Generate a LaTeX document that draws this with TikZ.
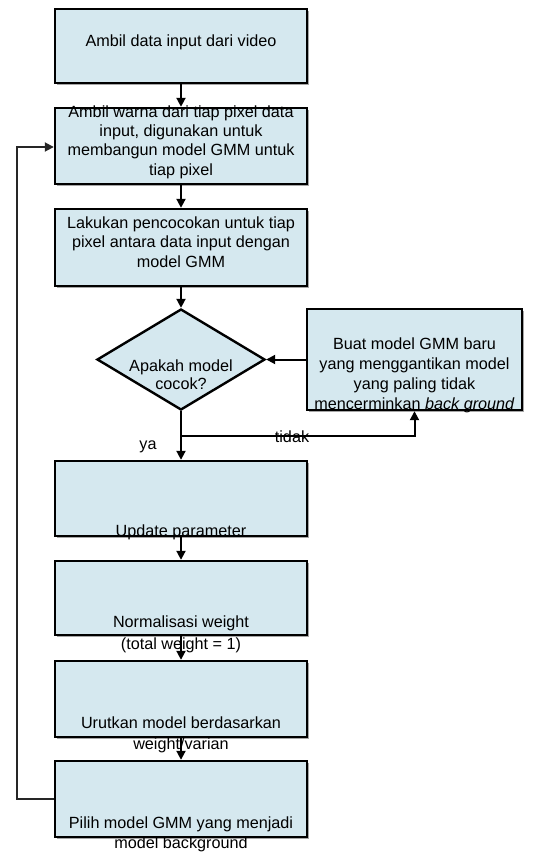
\documentclass[tikz,border=0pt]{standalone}
\usepackage{fontspec}
\setmainfont{Liberation Sans}
\usetikzlibrary{shapes.geometric,arrows.meta,shadows}
\definecolor{boxfill}{HTML}{D5E8EF}
\tikzset{
  stepbox/.style={draw=black, line width=2.4pt, fill=boxfill, rectangle, inner sep=0pt,
    minimum width=252pt, drop shadow={shadow xshift=1.5pt, shadow yshift=-1.5pt, fill=black!35, opacity=1}},
  decision/.style={draw=black, line width=2.4pt, fill=boxfill, diamond, inner sep=0pt,
    minimum width=168pt, minimum height=101pt, shape aspect=1.66},
  txt/.style={align=center, inner sep=0pt, font=\fontsize{16.2}{20}\selectfont},
  flow/.style={line width=2pt, -{Triangle[length=9pt,width=9pt]}},
  back/.style={line width=1.8pt, draw=black!85, -{Triangle[length=9pt,width=9pt]}},
}
\begin{document}
\begin{tikzpicture}[x=1pt,y=-1pt]
\useasboundingbox (0,0) rectangle (546,852);
% boxes
\node[stepbox, minimum height=74pt] (b1) at (181,46) {};
\node[stepbox, minimum height=76pt] (b2) at (181,146) {};
\node[stepbox, minimum height=77pt] (b3) at (181,247.5) {};
\node[decision] (d) at (181,359.5) {};
\node[stepbox, minimum width=215pt, minimum height=101pt] (r) at (414.5,359.5) {};
\node[stepbox, minimum height=75pt] (b4) at (181,498.5) {};
\node[stepbox, minimum height=74pt] (b5) at (181,598) {};
\node[stepbox, minimum height=76pt] (b6) at (181,699) {};
\node[stepbox, minimum height=76pt] (b7) at (181,799) {};
% texts
\node[txt] (t1) at (181,42) {Ambil data input dari video};
\node[txt, font=\fontsize{16.2}{19.3}\selectfont] (t2) at (181,142) {Ambil warna dari tiap pixel data\\input, digunakan untuk\\membangun model GMM untuk\\tiap pixel};
\node[txt, font=\fontsize{16.2}{19.3}\selectfont] (t3) at (181,242) {Lakukan pencocokan untuk tiap\\pixel antara data input dengan\\model GMM};
\node[txt, font=\fontsize{16.2}{18}\selectfont] (td) at (181,375) {Apakah model\\cocok?};
\node[txt] (tr) at (414.5,375.5) {Buat model GMM baru\\yang menggantikan model\\yang paling tidak\\mencerminkan \textit{back ground}};
\node[txt] (t4) at (181,532) {Update parameter};
\node[txt, font=\fontsize{16.2}{21.5}\selectfont] (t5) at (181,634.5) {Normalisasi weight\\(total weight = 1)};
\node[txt, font=\fontsize{16.2}{21}\selectfont] (t6) at (181,734.5) {Urutkan model berdasarkan\\weight/varian};
\node[txt, font=\fontsize{16.2}{20}\selectfont] (t7) at (181,834) {Pilih model GMM yang menjadi\\model background};
% connectors
\draw[flow] (b1) -- (b2);
\draw[flow] (b2) -- (b3);
\draw[flow] (b3) -- (d);
\draw[flow] (r) -- (d);
\draw[flow] (d) -- (b4);
\coordinate (br) at (181,436);
\draw[flow] (br) -| (r);
\draw[flow] (b4) -- (b5);
\draw[flow] (b5) -- (b6);
\draw[flow] (b6) -- (b7);
\coordinate (c1) at (17,799);
\coordinate (c2) at (17,147);
\draw[back] (b7.west) -- (c1) -- (c2) -- (b2.west |- c2);
% labels
\node[txt] (ya) at (148,447) {ya};
\node[txt] (tidak) at (292,437) {tidak};
\end{tikzpicture}
\end{document}
